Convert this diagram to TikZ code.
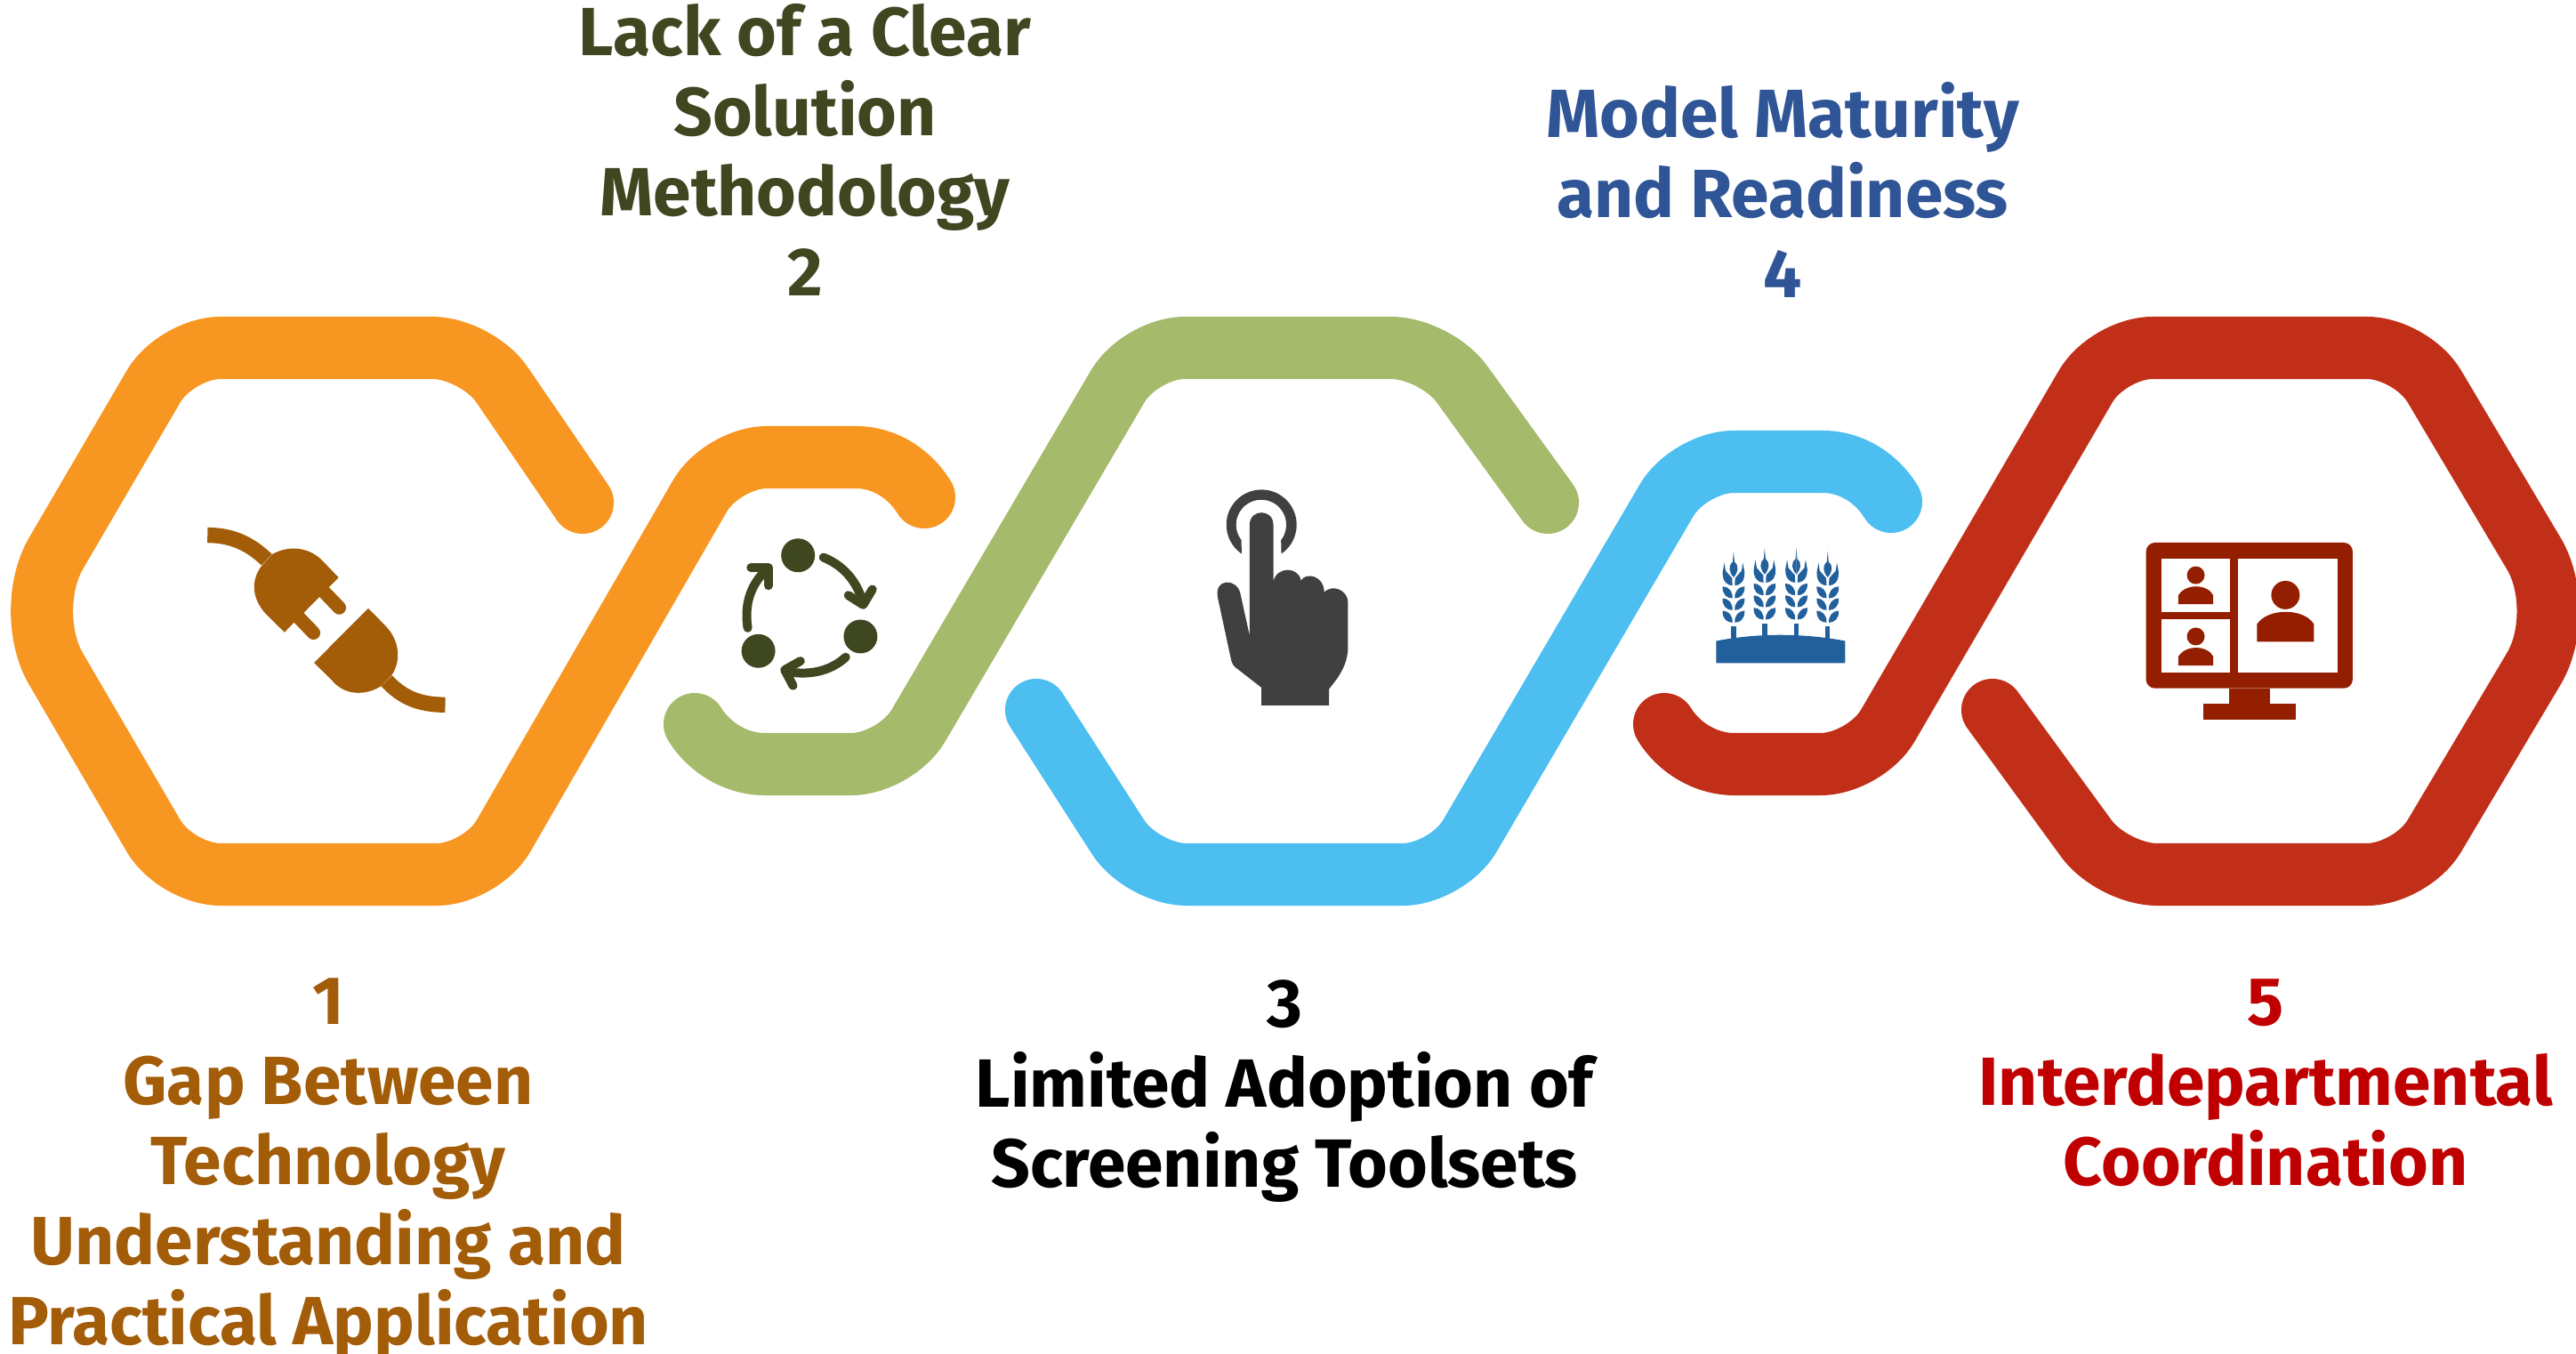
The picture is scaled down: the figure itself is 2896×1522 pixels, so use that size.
\documentclass[tikz,border=0pt]{standalone}
\usepackage{fontspec}
\setmainfont{Fira Sans}
\usepackage{tikz}
\definecolor{bandorange}{HTML}{F89622}
\definecolor{bandgreen}{HTML}{A5BA6A}
\definecolor{bandblue}{HTML}{4CBFF0}
\definecolor{bandred}{HTML}{C12F19}
\definecolor{textbrown}{HTML}{A35C08}
\definecolor{textgreen}{HTML}{3F4721}
\definecolor{textblue}{HTML}{2F5597}
\definecolor{textred}{HTML}{C00000}
\definecolor{handgrey}{HTML}{404040}
\definecolor{wheatblue}{HTML}{21609B}
\definecolor{screenred}{HTML}{941E00}
\tikzset{
  band/.style={line width=0.70cm,line cap=round,line join=round},
  lbl/.style={font=\fontsize{21.8}{25.6}\selectfont\bfseries,align=center},
  zoomed/.style={x=0.003333cm,y=-0.003333cm},
}
\begin{document}
\begin{tikzpicture}[x=0.01cm,y=-0.01cm]
       % Sizes
       \pgfmathsetmacro{\corner}{0.50}
       \pgfmathsetmacro{\sidecorner}{0.75}
       \useasboundingbox (0,0) rectangle (2896,1522);

       % ribbons
       \draw[band,bandorange,rounded corners=\corner cm] (655,565) -- (536,391) -- (198,391)
         [rounded corners=\sidecorner cm] -- (25,687) [rounded corners=\corner cm] -- (198,983)
         -- (541,983) -- (812,514) -- (962,514);
       \draw[band,bandorange] (962,514) .. controls (995,514) and (1023,533) .. (1039,559);
       \draw[band,bandgreen] (781,814) .. controls (797,840) and (827,859) .. (860,859);
       \draw[band,bandgreen,rounded corners=\corner cm] (860,859) -- (1007,859) -- (1282,391)
         -- (1614,391) -- (1740,565);
       \draw[band,bandblue,rounded corners=\corner cm] (1165,798) -- (1284,983) -- (1627,983)
         -- (1899,519) -- (2049,519);
       \draw[band,bandblue] (2049,519) .. controls (2082,519) and (2110,538) .. (2126,564);
       \draw[band,bandred] (1871,814) .. controls (1887,840) and (1917,859) .. (1950,859);
       \draw[band,bandred,rounded corners=\corner cm] (1950,859) -- (2097,859) -- (2370,391)
         -- (2711,391) [rounded corners=\sidecorner cm] -- (2887,687) [rounded corners=\corner cm] -- (2711,983)
         -- (2375,983) -- (2240,798);

       % plug
       \begin{scope}[shift={(200,540)},zoomed,textbrown]
         \draw[line width=0.173cm] (100,185) .. controls (190,185) and (250,220) .. (300,268);
         \draw[line width=0.173cm] (705,677) .. controls (755,730) and (810,758) .. (903,758);
         \draw[line width=0.153cm,line cap=round] (497,380) -- (545,430);
         \draw[line width=0.153cm,line cap=round] (410,465) -- (458,515);
         \fill (318,250) .. controls (375,218) and (440,225) .. (485,268) -- (543,328) -- (360,513)
           -- (298,452) .. controls (250,400) and (245,340) .. (282,290) -- cycle;
         \fill (643,432) -- (700,490) .. controls (750,540) and (755,610) .. (722,658) -- (686,695)
           .. controls (630,730) and (560,725) .. (520,675) -- (460,616) -- cycle;
       \end{scope}

       % cycle
       \begin{scope}[shift={(800,590)},zoomed,textgreen,line width=0.10cm,line cap=round,line join=round]
         \fill (292,103) circle[radius=57];
         \fill (503,377) circle[radius=57];
         \fill (158,426) circle[radius=57];
         \draw (378,110) .. controls (440,135) and (490,185) .. (512,265);
         \draw (462,238) -- (512,270) -- (543,218);
         \draw (453,447) .. controls (400,495) and (330,510) .. (250,495);
         \draw (300,460) -- (247,490) -- (275,543);
         \draw (122,348) .. controls (110,270) and (130,200) .. (190,148);
         \draw (133,145) -- (192,145) -- (192,205);
       \end{scope}

       % hand
       \begin{scope}[shift={(1340,530)},zoomed,handgrey]
         \fill (168,278) arc[start angle=124.4,end angle=415.6,radius=118.7] -- (301,232)
           arc[start angle=397.8,end angle=142.2,radius=84.8] -- cycle;
         \fill (195,180) .. controls (195,125) and (275,125) .. (275,180) -- (275,372)
           .. controls (285,320) and (360,320) .. (368,368)
           .. controls (385,340) and (445,350) .. (447,407)
           .. controls (475,380) and (525,400) .. (527,440) -- (527,600)
           .. controls (525,640) and (510,670) .. (490,700) -- (463,735) -- (463,790) -- (235,790)
           -- (235,730) -- (145,660) .. controls (135,650) and (133,640) .. (130,625)
           -- (87,425) .. controls (75,360) and (150,360) .. (163,410) -- (195,555) -- cycle;
       \end{scope}

       % wheat
       \begin{scope}[shift={(1910,600)},zoomed,wheatblue]
         \fill (58,437) -- (58,362) .. controls (200,335) and (350,335) .. (494,362) -- (494,437) -- cycle;
         \foreach \stalkx/\stalky in {117/0,222/-10,329/-10,435/0} {
           \foreach \side in {-1,1} {
             \begin{scope}[shift={(\stalkx,\stalky)},xscale=\side]
               \fill (0,60) -- (3,95) .. controls (20,110) and (15,130) .. (0,147) -- cycle;
               \fill (-31,98) -- (-27,125) -- (-5,150) -- (-4,175) .. controls (-22,175) and (-38,160) .. (-37,130) -- cycle;
               \foreach \row in {0,40,82} {
                 \fill (-37,178+\row) .. controls (-17,178+\row) and (-2,195+\row) .. (-4,218+\row)
                   .. controls (-22,218+\row) and (-39,205+\row) .. (-37,178+\row);
               }
               \fill (-8,312) rectangle (0,360);
             \end{scope}
           }
         }
       \end{scope}

       % screen
       \begin{scope}[shift={(2390,590)},zoomed,screenred]
         \fill[rounded corners=0.10cm] (68,60) rectangle (766,552);
         \fill (347,552) rectangle (487,605);
         \fill (260,605) rectangle (574,658);
         \fill[white] (120,114) rectangle (352,294);
         \fill[white] (120,320) rectangle (352,500);
         \fill[white] (378,114) rectangle (714,500);
         \foreach \shifty in {0,207} {
           \fill (236,170+\shifty) circle[radius=30];
           \fill (177,268+\shifty) -- (177,238+\shifty) .. controls (200,198+\shifty) and (275,198+\shifty) .. (295,238+\shifty)
             -- (295,268+\shifty) -- cycle;
         }
         \fill (539,237) circle[radius=48];
         \fill (443,395) -- (443,335) .. controls (480,280) and (600,280) .. (635,335) -- (635,395) -- cycle;
       \end{scope}

       % labels
       \node[lbl,text=textbrown] (gap) at (369,1314) {1\\Gap Between\\Technology\\Understanding and\\Practical Application};
       \node[lbl,text=textgreen] (lack) at (905,168) {Lack of a Clear\\Solution\\Methodology\\2};
       \node[lbl,text=black] (limited) at (1444,1227) {3\\Limited Adoption of\\Screening Toolsets};
       \node[lbl,text=textblue] (maturity) at (2004,213) {Model Maturity\\and Readiness\\4};
       \node[lbl,text=textred] (coordination) at (2547,1217) {5\\Interdepartmental\\Coordination};
\end{tikzpicture}
\end{document}
